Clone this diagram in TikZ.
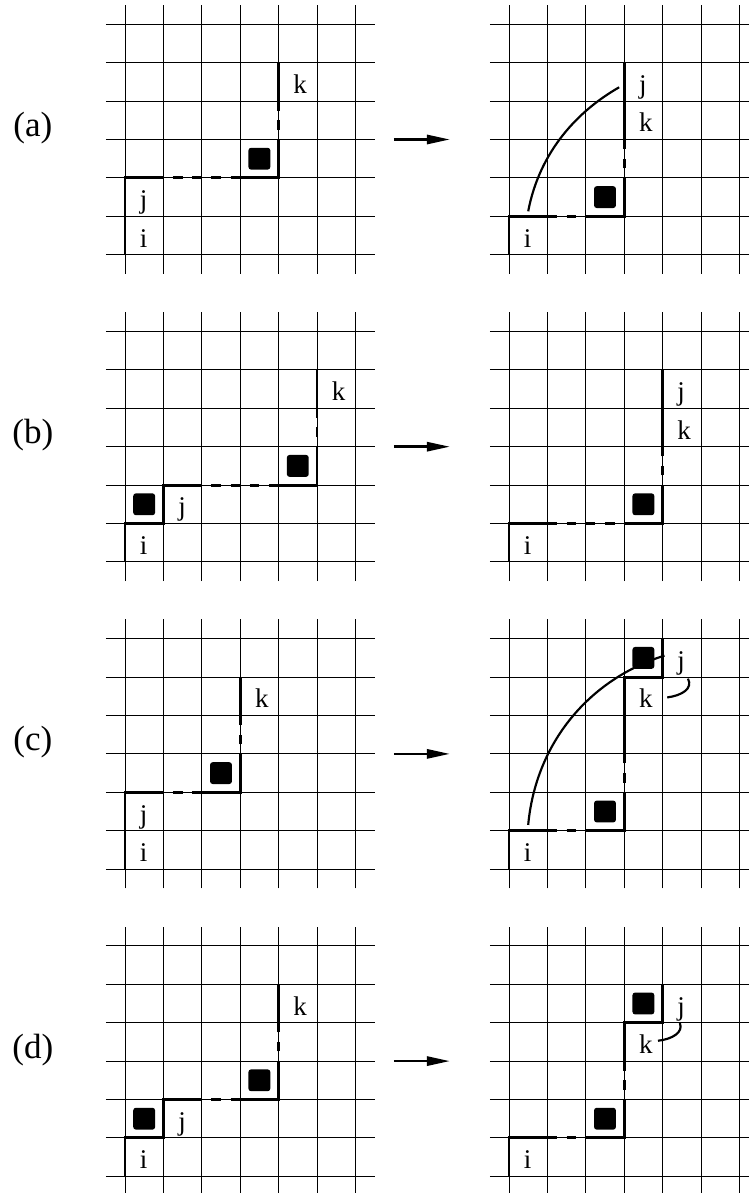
\documentclass[tikz,border=0pt]{standalone}
\usepackage{fontspec}
\setmainfont{Liberation Serif}
\usetikzlibrary{arrows.meta}

\begin{document}
\begin{tikzpicture}[
    gridline/.style={line width=0.7pt, black},
    bond/.style={line width=2.2pt},
    gapdash/.style={bond, dash pattern=on 0.25cm off 0.25cm, dash phase=0.25cm},
    ondash/.style={bond, dash pattern=on 0.25cm off 0.25cm},
    monomer/.style={rectangle, fill=black, rounded corners=2pt,
                    minimum size=0.57cm, inner sep=0pt},
    site/.style={font=\fontsize{20}{24}\selectfont, anchor=base west, inner sep=0pt},
    panel/.style={font=\fontsize{26}{30}\selectfont},
    move/.style={-{Triangle[length=0.6cm, width=0.24cm]}, line width=1.8pt},
    link/.style={line width=1.6pt},
]
    \clip (-3.255,-0.435) rectangle (16.25,30.633);

    % lattices and arrows
    \foreach \oy in {0,8,16,24} {
        \foreach \ox in {0,10} {
            \foreach \t in {0,...,6} {
                \draw[gridline] (\ox-0.5,\oy+\t) -- (\ox+6.5,\oy+\t);
                \draw[gridline] (\ox+\t,\oy-0.5) -- (\ox+\t,\oy+6.5);
            }
        }
        \coordinate (mv\oy-s) at (7,\oy+3);
        \coordinate (mv\oy-e) at (8.46,\oy+3);
        \draw[move] (mv\oy-s) -- (mv\oy-e);
    }

    % (a)
    \begin{scope}[yshift=24cm]
        \node[panel] (lab-a) at (-2.4,3.3) {(a)};
        \draw[bond] (0,0) -- (0,2) -- (1,2);
        \draw[gapdash] (1,2) -- (3,2);
        \draw[bond] (3,2) -- (4,2) -- (4,3);
        \draw[gapdash] (4,3) -- (4,4);
        \draw[bond] (4,4) -- (4,5);
        \node[monomer] (a-m) at (3.5,2.5) {};
        \node[site] (a-i) at (0.38,0.2) {i};
        \node[site] (a-j) at (0.38,1.2) {j};
        \node[site] (a-k) at (4.38,4.2) {k};
        % after
        \draw[bond] (10,0) -- (10,1) -- (11,1);
        \draw[ondash] (11,1) -- (12,1);
        \draw[bond] (12,1) -- (13,1) -- (13,2);
        \draw[gapdash] (13,2) -- (13,3);
        \draw[bond] (13,3) -- (13,5);
        \node[monomer] (a2-m) at (12.5,1.5) {};
        \node[site] (a2-i) at (10.38,0.2) {i};
        \node[site] (a2-j) at (13.38,4.2) {j};
        \node[site] (a2-k) at (13.38,3.2) {k};
        \coordinate (a2-s) at (10.5,1.13);
        \coordinate (a2-e) at (12.87,4.36);
        \draw[link] (a2-s) .. controls (10.8,2.7) and (11.8,3.75) .. (a2-e);
    \end{scope}

    % (b)
    \begin{scope}[yshift=16cm]
        \node[panel] (lab-b) at (-2.4,3.3) {(b)};
        \draw[bond] (0,0) -- (0,1) -- (1,1) -- (1,2) -- (2,2);
        \draw[gapdash] (2,2) -- (4,2);
        \draw[bond] (4,2) -- (5,2) -- (5,3);
        \draw[gapdash] (5,3) -- (5,4);
        \draw[bond] (5,4) -- (5,5);
        \node[monomer] (b-m1) at (0.5,1.5) {};
        \node[monomer] (b-m2) at (4.5,2.5) {};
        \node[site] (b-i) at (0.38,0.2) {i};
        \node[site] (b-j) at (1.38,1.2) {j};
        \node[site] (b-k) at (5.38,4.2) {k};
        % after
        \draw[bond] (10,0) -- (10,1) -- (11,1);
        \draw[ondash] (11,1) -- (13,1);
        \draw[bond] (13,1) -- (14,1) -- (14,2);
        \draw[gapdash] (14,2) -- (14,3);
        \draw[bond] (14,3) -- (14,5);
        \node[monomer] (b2-m) at (13.5,1.5) {};
        \node[site] (b2-i) at (10.38,0.2) {i};
        \node[site] (b2-j) at (14.38,4.2) {j};
        \node[site] (b2-k) at (14.38,3.2) {k};
    \end{scope}

    % (c)
    \begin{scope}[yshift=8cm]
        \node[panel] (lab-c) at (-2.4,3.3) {(c)};
        \draw[bond] (0,0) -- (0,2) -- (1,2);
        \draw[gapdash] (1,2) -- (2,2);
        \draw[bond] (2,2) -- (3,2) -- (3,3);
        \draw[gapdash] (3,3) -- (3,4);
        \draw[bond] (3,4) -- (3,5);
        \node[monomer] (c-m) at (2.5,2.5) {};
        \node[site] (c-i) at (0.38,0.2) {i};
        \node[site] (c-j) at (0.38,1.2) {j};
        \node[site] (c-k) at (3.38,4.2) {k};
        % after
        \draw[bond] (10,0) -- (10,1) -- (11,1);
        \draw[ondash] (11,1) -- (12,1);
        \draw[bond] (12,1) -- (13,1) -- (13,2);
        \draw[gapdash] (13,2) -- (13,3);
        \draw[bond] (13,3) -- (13,5) -- (14,5) -- (14,6);
        \coordinate (c2-s) at (10.5,1.15);
        \coordinate (c2-e) at (14.05,5.56);
        \draw[link] (c2-s) .. controls (10.7,3.3) and (12.1,4.95) .. (c2-e);
        \node[monomer] (c2-m1) at (12.5,1.5) {};
        \node[monomer] (c2-m2) at (13.5,5.5) {};
        \node[site] (c2-i) at (10.38,0.2) {i};
        \node[site] (c2-j) at (14.38,5.2) {j};
        \node[site] (c2-k) at (13.38,4.2) {k};
        \coordinate (c2-hs) at (14.12,4.47);
        \coordinate (c2-he) at (14.66,4.96);
        \draw[link] (c2-hs) .. controls (14.5,4.52) and (14.8,4.7) .. (c2-he);
    \end{scope}

    % (d)
    \begin{scope}
        \node[panel] (lab-d) at (-2.4,3.3) {(d)};
        \draw[bond] (0,0) -- (0,1) -- (1,1) -- (1,2) -- (2,2);
        \draw[gapdash] (2,2) -- (3,2);
        \draw[bond] (3,2) -- (4,2) -- (4,3);
        \draw[gapdash] (4,3) -- (4,4);
        \draw[bond] (4,4) -- (4,5);
        \node[monomer] (d-m1) at (0.5,1.5) {};
        \node[monomer] (d-m2) at (3.5,2.5) {};
        \node[site] (d-i) at (0.38,0.2) {i};
        \node[site] (d-j) at (1.38,1.2) {j};
        \node[site] (d-k) at (4.38,4.2) {k};
        % after
        \draw[bond] (10,0) -- (10,1) -- (11,1);
        \draw[ondash] (11,1) -- (12,1);
        \draw[bond] (12,1) -- (13,1) -- (13,2);
        \draw[gapdash] (13,2) -- (13,3);
        \draw[bond] (13,3) -- (13,4) -- (14,4) -- (14,5);
        \node[monomer] (d2-m1) at (12.5,1.5) {};
        \node[monomer] (d2-m2) at (13.5,4.5) {};
        \node[site] (d2-i) at (10.38,0.2) {i};
        \node[site] (d2-j) at (14.38,4.2) {j};
        \node[site] (d2-k) at (13.38,3.2) {k};
        \coordinate (d2-hs) at (13.88,3.53);
        \coordinate (d2-he) at (14.45,3.99);
        \draw[link] (d2-hs) .. controls (14.25,3.57) and (14.55,3.75) .. (d2-he);
    \end{scope}
\end{tikzpicture}
\end{document}
